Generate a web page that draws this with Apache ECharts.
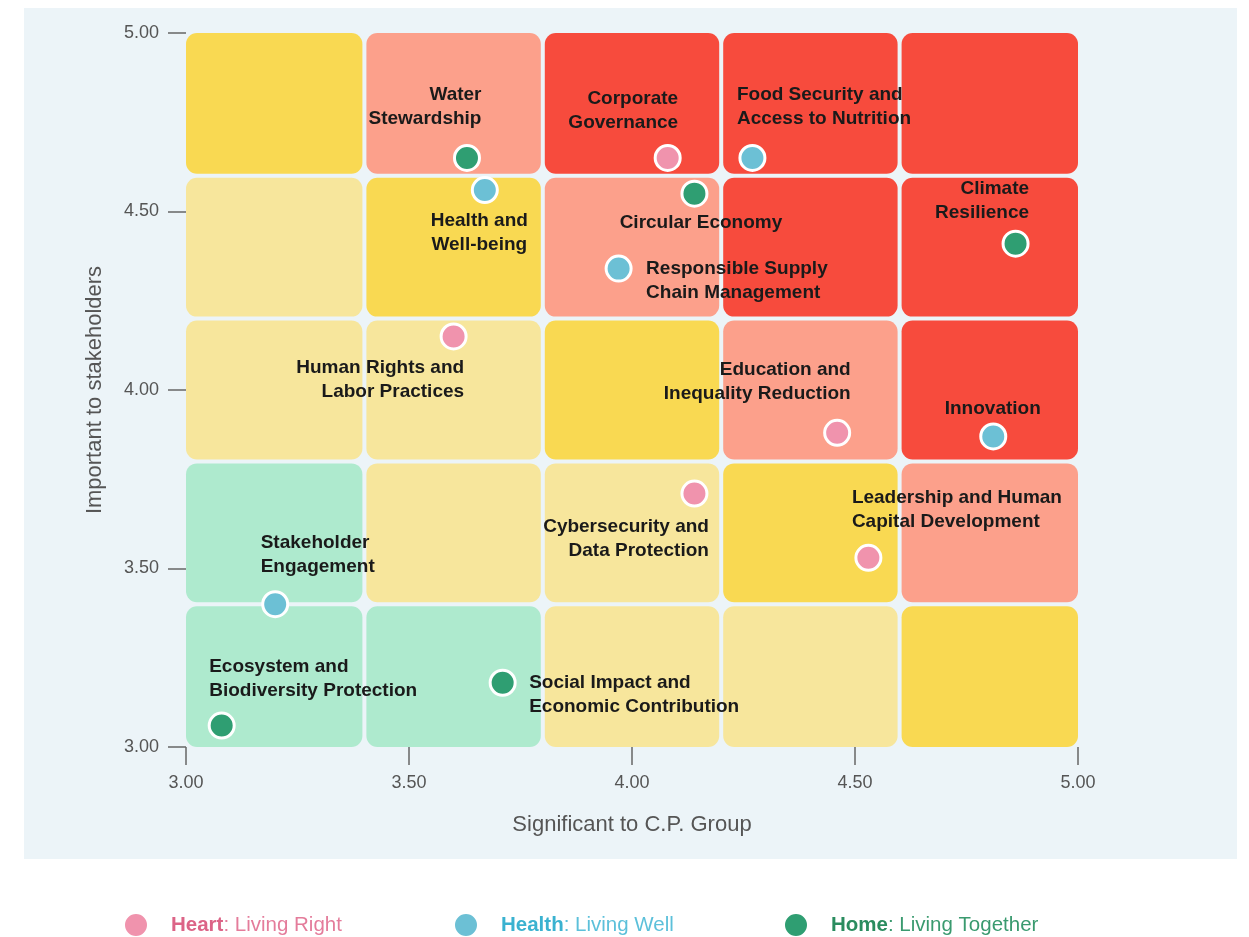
<!DOCTYPE html>
<html>
<head>
<meta charset="utf-8">
<title>Materiality Matrix</title>
<script src="https://cdn.jsdelivr.net/npm/echarts@6/dist/echarts.min.js"></script>
<style>
  html, body { margin: 0; padding: 0; background: #ffffff; }
  #main { width: 1249px; height: 937px; }
</style>
</head>
<body>
<div id="main"></div>
<script>
// topics on the matrix
const topicNames = [
  'Water\nStewardship',
  'Health and\nWell-being',
  'Corporate\nGovernance',
  'Food Security and\nAccess to Nutrition',
  'Circular Economy',
  'Responsible Supply\nChain Management',
  'Climate\nResilience',
  'Human Rights and\nLabor Practices',
  'Education and\nInequality Reduction',
  'Innovation',
  'Leadership and Human\nCapital Development',
  'Cybersecurity and\nData Protection',
  'Stakeholder\nEngagement',
  'Ecosystem and\nBiodiversity Protection',
  'Social Impact and\nEconomic Contribution'
];
const significance = [3.63, 3.67, 4.08, 4.27, 4.14, 3.97, 4.86, 3.60, 4.46, 4.81, 4.53, 4.14, 3.20, 3.08, 3.71];
const importance   = [4.65, 4.56, 4.65, 4.65, 4.55, 4.34, 4.41, 4.15, 3.88, 3.87, 3.53, 3.71, 3.40, 3.06, 3.18];
const pillar = ['Home', 'Health', 'Heart', 'Health', 'Home', 'Health', 'Home', 'Heart', 'Heart', 'Health', 'Heart', 'Heart', 'Health', 'Home', 'Home'];

const pillarNames = ['Heart', 'Health', 'Home'];
const pillarTaglines = ['Living Right', 'Living Well', 'Living Together'];

// background matrix: 5x5 bands, rows listed top to bottom
const bandEdges = [3.0, 3.4, 3.8, 4.2, 4.6, 5.0];
const bandLevels = [
  [2, 3, 4, 4, 4],
  [1, 2, 3, 4, 4],
  [1, 1, 2, 3, 4],
  [0, 1, 1, 2, 3],
  [0, 0, 1, 1, 2]
];
const xTicks = [3.0, 3.5, 4.0, 4.5, 5.0];

// styling
const levelColors = ['#aeeace', '#f7e69c', '#f9d952', '#fca08b', '#f74b3d'];
const pillarColors = { Heart: '#f093ad', Health: '#6cc0d5', Home: '#2f9e72' };
const pillarText = {
  Heart: ['#dc6487', '#e47c9b'],
  Health: ['#3ab2d0', '#5cc0da'],
  Home: ['#2a8c5f', '#3a9a6f']
};
const FONT = "'Liberation Sans', Arial, Helvetica, sans-serif";
const SYM = 25;
// label anchor relative to the point: [dx, dy, align, verticalAlign]
const labelPlace = [
  [16, -26, 'right', 'bottom'],
  [-4, 20, 'center', 'top'],
  [12, -22, 'right', 'bottom'],
  [-14, -26, 'left', 'bottom'],
  [8, 31, 'center', 'middle'],
  [29, -10, 'left', 'top'],
  [15, -17, 'right', 'bottom'],
  [12, 21, 'right', 'top'],
  [15, -26, 'right', 'bottom'],
  [1, -26, 'center', 'middle'],
  [-15, -23, 'left', 'bottom'],
  [16, 23, 'right', 'top'],
  [-13, -24, 'left', 'bottom'],
  [-11, -21, 'left', 'bottom'],
  [28, -10, 'left', 'top']
];

const cellData = [];
bandLevels.forEach((row, r) => {
  row.forEach((lvl, c) => {
    const y1 = bandEdges[5 - r], y0 = bandEdges[4 - r];
    cellData.push([bandEdges[c], bandEdges[c + 1], y0, y1, lvl]);
  });
});

function renderCell(params, api) {
  const x0 = api.value(0), x1 = api.value(1), y0 = api.value(2), y1 = api.value(3);
  const tl = api.coord([x0, y1]);
  const br = api.coord([x1, y0]);
  const gap = 2;
  const l = tl[0] + (x0 > 3 ? gap : 0);
  const r = br[0] - (x1 < 5 ? gap : 0);
  const t = tl[1] + (y1 < 5 ? gap : 0);
  const b = br[1] - (y0 > 3 ? gap : 0);
  return {
    type: 'rect',
    shape: { x: l, y: t, width: r - l, height: b - t, r: 11 },
    style: { fill: levelColors[api.value(4)] }
  };
}

const scatterSeries = pillarNames.map(p => {
  const data = [];
  topicNames.forEach((n, i) => {
    if (pillar[i] !== p) return;
    const pl = labelPlace[i];
    data.push({
      name: n,
      value: [significance[i], importance[i]],
      label: {
        position: [SYM / 2 + pl[0], SYM / 2 + pl[1]],
        align: pl[2],
        verticalAlign: pl[3]
      }
    });
  });
  return {
    name: p,
    type: 'scatter',
    symbol: 'circle',
    symbolSize: SYM,
    z: 5,
    itemStyle: { color: pillarColors[p], borderColor: '#ffffff', borderWidth: 3, opacity: 1 },
    label: {
      show: true,
      formatter: '{b}',
      color: '#1a1a1a',
      fontFamily: FONT,
      fontWeight: 'bold',
      fontSize: 19,
      lineHeight: 24
    },
    emphasis: { disabled: true },
    data: data
  };
});

const legendLeft = [118, 448, 778];
const legends = pillarNames.map((p, i) => ({
  data: [p],
  left: legendLeft[i],
  top: 907,
  icon: 'circle',
  itemWidth: 24,
  itemHeight: 24,
  selectedMode: false,
  formatter: () => '{gap|}{b|' + p + '}{n|: ' + pillarTaglines[i] + '}',
  textStyle: {
    rich: {
      gap: { width: 18 },
      b: { fontFamily: FONT, fontSize: 20.5, fontWeight: 'bold', color: pillarText[p][0] },
      n: { fontFamily: FONT, fontSize: 20.5, color: pillarText[p][1] }
    }
  }
}));

const myChart = echarts.init(document.getElementById('main'), null, { renderer: 'canvas' });
const option = {
  backgroundColor: '#ffffff',
  animation: false,
  graphic: {
    elements: [{
      type: 'rect',
      z: -10,
      silent: true,
      shape: { x: 24, y: 8, width: 1213, height: 851 },
      style: { fill: '#ecf4f8' }
    }]
  },
  grid: { left: 186, right: 171, top: 33, bottom: 190 },
  legend: legends,
  xAxis: {
    type: 'value',
    min: 3,
    max: 5,
    interval: 0.5,
    name: 'Significant to C.P. Group',
    nameLocation: 'middle',
    nameGap: 67,
    nameTextStyle: { fontFamily: FONT, fontSize: 22, color: '#555555' },
    axisLine: { show: false },
    axisTick: { show: true, length: 18, lineStyle: { color: '#666666', width: 1.5 } },
    splitLine: { show: false },
    axisLabel: {
      margin: 27,
      fontFamily: FONT,
      fontSize: 18,
      color: '#555555',
      formatter: v => xTicks.indexOf(v) >= 0 ? v.toFixed(2) : ''
    }
  },
  yAxis: {
    type: 'value',
    min: 3,
    max: 5,
    interval: 0.5,
    name: 'Important to stakeholders',
    nameLocation: 'middle',
    nameGap: 80,
    nameRotate: 90,
    nameTextStyle: { fontFamily: FONT, fontSize: 22, color: '#555555' },
    axisLine: { show: false },
    axisTick: { show: true, length: 18, lineStyle: { color: '#666666', width: 1.5 } },
    splitLine: { show: false },
    axisLabel: {
      margin: 27,
      fontFamily: FONT,
      fontSize: 18,
      color: '#555555',
      formatter: v => v.toFixed(2)
    }
  },
  series: [
    {
      type: 'custom',
      name: 'matrix',
      silent: true,
      z: 1,
      renderItem: renderCell,
      encode: { x: [0, 1], y: [2, 3] },
      data: cellData
    }
  ].concat(scatterSeries)
};
myChart.setOption(option);
</script>
</body>
</html>
